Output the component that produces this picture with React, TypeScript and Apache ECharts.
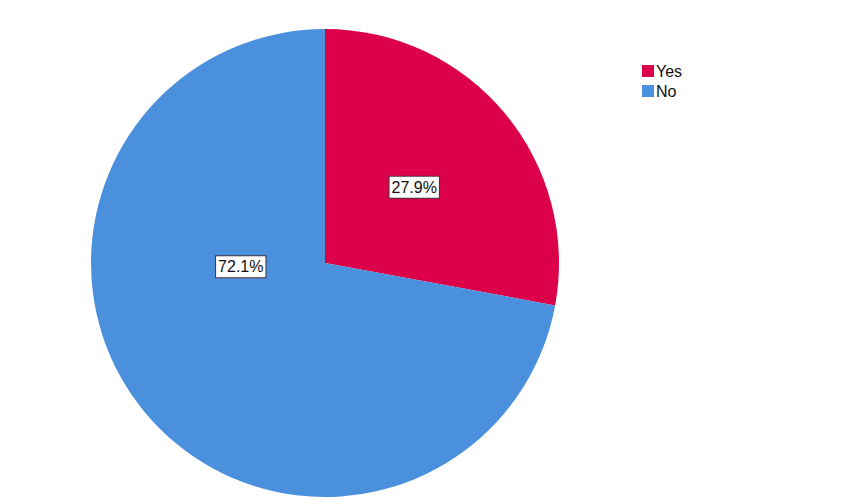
import React, { useEffect, useRef } from "react";
import * as echarts from "echarts";

const categories = ["Yes", "No"];
const percents = [27.9, 72.1];
const colors = ["#DC004B", "#4A90DC"];

export default function App() {
  const ref = useRef<HTMLDivElement>(null);
  useEffect(() => {
    const chart = echarts.init(ref.current!, null, { renderer: "svg" });
    chart.setOption({
      animation: false,
      backgroundColor: "#ffffff",
      legend: {
        orient: "vertical",
        left: 637,
        top: 58,
        padding: 5,
        itemWidth: 12,
        itemHeight: 12,
        itemGap: 4,
        icon: "rect",
        textStyle: { fontFamily: "Liberation Sans, Arial, sans-serif", fontSize: 16, color: "#111", padding: [0, 0, 0, -3] },
        data: categories,
      },
      series: [
        {
          type: "pie",
          center: [325, 263],
          radius: 234,
          startAngle: 90,
          clockwise: true,
          silent: true,
          data: categories.map((c, i) => ({
            name: c,
            value: percents[i],
            itemStyle: { color: colors[i] },
          })),
          label: {
            show: true,
            position: "inside",
            formatter: (p: any) => p.value.toFixed(1) + "%",
            fontFamily: "Liberation Sans, Arial, sans-serif",
            fontSize: 16,
            color: "#111",
            backgroundColor: "#ffffff",
            borderColor: "#4a3040",
            borderWidth: 1,
            padding: [3, 2, 2, 2],
          },
          labelLine: { show: false },
          labelLayout: (params: any) =>
            params.dataIndex === 1 ? { dx: 8, dy: -73 } : { dx: -3, dy: 1 },
        },
      ],
    });
    return () => chart.dispose();
  }, []);
  return <div ref={ref} style={{ width: 854, height: 504, marginLeft: -8, marginTop: -8 }} />;
}
